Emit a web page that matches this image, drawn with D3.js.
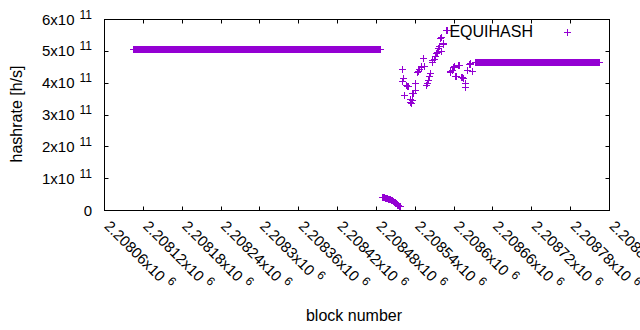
<!DOCTYPE html>
<html>
<head>
<meta charset="utf-8">
<script src="https://cdn.jsdelivr.net/npm/d3@7"></script>
<style>
  body { margin: 0; background: #fff; }
  svg text { font-family: "Liberation Sans", Arial, sans-serif; fill: #000; }
</style>
</head>
<body>
<div id="chart"></div>
<script>
// Flat stretches where the hashrate stays constant block after block
const flatRuns = [
    { from: 2208105, to: 2208487, value: 5.06e11 },
    { from: 2208633, to: 2208825, value: 4.645e11 }
];

// Short collapse right after the first flat stretch (values in 1e11 h/s)
const dropStart = 2208489;
const dropValues = [0.42, 0.42, 0.41, 0.41, 0.40, 0.39, 0.39, 0.38, 0.37, 0.36,
                    0.36, 0.35, 0.34, 0.33, 0.32, 0.31, 0.30, 0.29, 0.27, 0.26,
                    0.24, 0.23, 0.21, 0.19, 0.17, 0.16, 0.14, 0.13, 0.12];

// Scattered recovery before the second flat stretch
const scatterBlocks = [2208520, 2208521, 2208522, 2208524, 2208527, 2208528, 2208529, 2208532,
                       2208533, 2208534, 2208535, 2208536, 2208538, 2208540, 2208541, 2208544,
                       2208545, 2208547, 2208549, 2208550, 2208553, 2208555, 2208558, 2208559,
                       2208560, 2208562, 2208563, 2208566, 2208567, 2208569, 2208571, 2208573,
                       2208575, 2208576, 2208577, 2208579, 2208580, 2208581, 2208583, 2208584,
                       2208588, 2208589, 2208590, 2208594, 2208595, 2208597, 2208599, 2208600,
                       2208601, 2208602, 2208604, 2208607, 2208608, 2208612, 2208613, 2208614,
                       2208617, 2208618, 2208621, 2208624, 2208625, 2208626, 2208629];
const scatterValues = [4.43, 4.05, 4.16, 3.61, 3.94, 3.89, 3.91, 3.49,
                       3.39, 3.36, 3.44, 3.69, 3.66, 3.78, 4.00, 4.32,
                       4.38, 4.44, 4.51, 4.49, 4.78, 4.52, 3.94, 4.00,
                       4.07, 4.22, 4.29, 4.65, 4.71, 4.74, 4.83, 4.93,
                       4.96, 5.10, 5.15, 5.40, 5.43, 4.99, 5.24, 5.21,
                       5.66, 5.65, 5.66, 4.38, 4.32, 4.41, 4.50, 4.52,
                       4.49, 4.22, 4.21, 4.55, 4.57, 4.19, 4.18, 4.16,
                       3.99, 3.85, 4.41, 4.60, 4.58, 4.61, 4.36];

// Axis ticks
const xTicks = d3.range(2208060, 2208841, 60);
const yTicks = [0, 1e11, 2e11, 3e11, 4e11, 5e11, 6e11];

const seriesName = "EQUIHASH";
const color = "#9400d3";

function init() {
    // Build the point list
    let points = [];
    flatRuns.forEach(r => {
        for (let b = r.from; b <= r.to; b++) points.push({ block: b, value: r.value });
    });
    dropValues.forEach((v, i) => points.push({ block: dropStart + i, value: v * 1e11 }));
    scatterBlocks.forEach((b, i) => points.push({ block: b, value: scatterValues[i] * 1e11 }));

    // Dimensions
    const width = 640, height = 330;
    const mLeft = 104.5, mRight = 609.5, mTop = 19.5, mBottom = 210.5;

    const svg = d3.select("#chart")
        .append("svg")
        .attr("width", width)
        .attr("height", height);

    const x = d3.scaleLinear().domain([2208060, 2208840]).range([mLeft, mRight]);
    const y = d3.scaleLinear().domain([0, 6e11]).range([mBottom, mTop]);

    // Tick marks, mirrored on all four sides, pointing inward
    const tickLen = 4;
    const ticks = svg.append("g").attr("stroke", "#000").attr("stroke-width", 1);
    xTicks.forEach(t => {
        const px = Math.round(x(t) - 0.5) + 0.5;
        ticks.append("line").attr("x1", px).attr("x2", px).attr("y1", mBottom).attr("y2", mBottom - tickLen);
        ticks.append("line").attr("x1", px).attr("x2", px).attr("y1", mTop).attr("y2", mTop + tickLen);
    });
    yTicks.forEach(t => {
        const py = Math.round(y(t) - 0.5) + 0.5;
        ticks.append("line").attr("x1", mLeft).attr("x2", mLeft + tickLen).attr("y1", py).attr("y2", py);
        ticks.append("line").attr("x1", mRight).attr("x2", mRight - tickLen).attr("y1", py).attr("y2", py);
    });

    // Y tick labels like gnuplot's "5x10^{11}"
    yTicks.forEach(t => {
        const label = svg.append("text")
            .attr("x", 92)
            .attr("y", y(t) + 5)
            .attr("text-anchor", "end")
            .attr("font-size", 15);
        if (t === 0) {
            label.text("0");
        } else {
            const exp = Math.floor(Math.log10(t));
            label.append("tspan").text(`${Math.round(t / Math.pow(10, exp))}x10`);
            label.append("tspan").attr("dx", 5).attr("dy", -6).attr("font-size", 12).text(exp);
        }
    });

    // X tick labels, rotated
    xTicks.forEach(t => {
        const exp = Math.floor(Math.log10(t));
        const mant = +(t / Math.pow(10, exp)).toFixed(5);
        const label = svg.append("text")
            .attr("transform", `translate(${x(t) - 1},${227}) rotate(45)`)
            .attr("font-size", 15);
        label.append("tspan").text(`${mant}x10`);
        label.append("tspan").attr("dx", 5).attr("dy", -6).attr("font-size", 12).text(exp);
    });

    // Data points as "+" markers, snapped to the pixel grid so they stay crisp
    const arm = 3.5;
    const snap = v => Math.round(v - 0.5) + 0.5;
    svg.append("path")
        .attr("fill", "none")
        .attr("stroke", color)
        .attr("stroke-width", 1)
        .attr("d", points.map(p => {
            const px = snap(x(p.block)), py = snap(y(p.value));
            return `M${px - arm},${py}H${px + arm}M${px},${py - arm}V${py + arm}`;
        }).join(""));

    // Border
    svg.append("rect")
        .attr("x", mLeft).attr("y", mTop)
        .attr("width", mRight - mLeft).attr("height", mBottom - mTop)
        .attr("fill", "none").attr("stroke", "#000").attr("stroke-width", 1);

    // Legend
    svg.append("text")
        .attr("x", 533).attr("y", 37)
        .attr("text-anchor", "end")
        .attr("font-size", 16)
        .text(seriesName);
    svg.append("path")
        .attr("stroke", color).attr("stroke-width", 1)
        .attr("d", `M${567.5 - arm},32.5H${567.5 + arm}M567.5,${32.5 - arm}V${32.5 + arm}`);

    // Axis titles
    svg.append("text")
        .attr("transform", `translate(22,114) rotate(-90)`)
        .attr("text-anchor", "middle")
        .attr("font-size", 16)
        .text("hashrate [h/s]");
    svg.append("text")
        .attr("x", 354).attr("y", 320.5)
        .attr("text-anchor", "middle")
        .attr("font-size", 16)
        .text("block number");
}

init();
</script>
</body>
</html>
